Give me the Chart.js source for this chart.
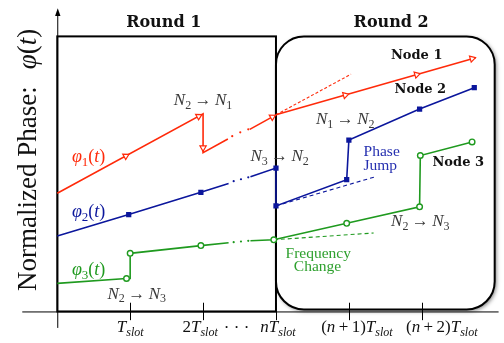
<!DOCTYPE html>
<html>
<head>
<meta charset="utf-8">
<script src="https://cdn.jsdelivr.net/npm/chart.js@4.4.1/dist/chart.umd.min.js"></script>
<style>
  html, body { margin: 0; padding: 0; background: #fff; }
  canvas { display: block; }
</style>
</head>
<body>
<canvas id="phase" width="504" height="343"></canvas>
<script>
// Time in units of T_slot (n = 3), phase in normalized units.
const slotTicks = [1, 2, 3, 4, 5];
const slotLabels = ['T_{slot}', '2T_{slot}', 'nT_{slot}', '(n + 1)T_{slot}', '(n + 2)T_{slot}'];

// Node 1 (red)
const node1PathA = [[0, 1.22], [2, 2.04], [2, 1.64], [2.34, 1.78]];
const node1PathB = [[2.64, 1.88], [3, 2.03]];
const node1PathC = [[3, 2.03], [5.74, 2.62]];
const node1Free  = [[3, 2.03], [4.03, 2.45]];
const node1Arrows = [[0.94, 1.605], [1.94, 2.015], [2, 1.69], [2.95, 2.008], [3.95, 2.234], [4.93, 2.446], [5.69, 2.611]];
const node1Dots = [[2.40, 1.81], [2.51, 1.85], [2.62, 1.88]];

// Node 2 (blue)
const node2PathA = [[0, 0.78], [0.98, 1.00], [1.97, 1.23], [2.35, 1.32]];
const node2PathB = [[2.65, 1.39], [3, 1.48], [3, 1.09], [3.97, 1.36], [4, 1.77], [4.97, 2.09], [5.72, 2.31]];
const node2Free  = [[3, 1.09], [4.36, 1.39]];
const node2Marks = [[0.98, 1.00], [1.97, 1.23], [3, 1.48], [3, 1.09], [3.97, 1.36], [4, 1.77], [4.97, 2.09], [5.72, 2.31]];
const node2Dots = [[2.42, 1.345], [2.52, 1.365], [2.62, 1.385]];

// Node 3 (green)
const node3PathA = [[0, 0.29], [0.95, 0.34], [1, 0.34], [1, 0.60], [1.97, 0.68], [2.35, 0.71]];
const node3PathB = [[2.65, 0.73], [2.97, 0.74], [3.97, 0.91], [4.97, 1.08], [4.98, 1.61], [5.69, 1.75]];
const node3Free  = [[2.97, 0.74], [4.34, 0.81]];
const node3Marks = [[0.95, 0.34], [1, 0.60], [1.97, 0.68], [2.97, 0.74], [3.97, 0.91], [4.97, 1.08], [4.98, 1.61], [5.69, 1.75]];
const node3Dots = [[2.42, 0.715], [2.52, 0.722], [2.62, 0.729]];

const RED = '#ff2a0a', BLUE = '#0b169c', GREEN = '#1f9a1f', INK = '#111', GREY = '#3a3a3a';
const SERIF = '"Liberation Serif", "Times New Roman", serif';
const BOLD = '"DejaVu Serif", serif';

// View window of the two scales
const X_MIN = -53 / 74.5, X_MAX = X_MIN + 504 / 74.5;
const Y_MIN = -0.27, Y_MAX = 3.16;

const P = arr => arr.map(([x, y]) => ({ x, y }));
const node1Paths = [node1PathA, node1PathB, node1PathC];

// Point each arrowhead along the path segment it sits on
function arrowRotation(ctx) {
  if (ctx.type !== 'data') return 0;
  const p = node1Arrows[ctx.dataIndex];
  const xs = ctx.chart.scales.x, ys = ctx.chart.scales.y;
  const px = xs.getPixelForValue(p[0]), py = ys.getPixelForValue(p[1]);
  let best = Infinity, ang = 0;
  for (const path of node1Paths) {
    for (let i = 0; i < path.length - 1; i++) {
      const ax = xs.getPixelForValue(path[i][0]), ay = ys.getPixelForValue(path[i][1]);
      const bx = xs.getPixelForValue(path[i + 1][0]), by = ys.getPixelForValue(path[i + 1][1]);
      const dx = bx - ax, dy = by - ay, L = dx * dx + dy * dy;
      let t = L ? ((px - ax) * dx + (py - ay) * dy) / L : 0;
      t = Math.max(0, Math.min(1, t));
      const d = Math.hypot(ax + t * dx - px, ay + t * dy - py);
      if (d < best) { best = d; ang = Math.atan2(dy, dx); }
    }
  }
  return ang * 180 / Math.PI + 90;
}

const line = (arr, color, extra) => Object.assign({
  data: P(arr), showLine: true, borderColor: color, borderWidth: 1.6,
  pointRadius: 0, fill: false, tension: 0, order: 1
}, extra || {});
const dashed = (arr, color, dash) => line(arr, color, { borderWidth: 1.1, borderDash: dash, order: 2 });
const dots = (arr, color) => ({
  data: P(arr), showLine: false, pointStyle: 'circle', pointRadius: 1.1,
  pointBorderWidth: 0, pointBackgroundColor: color, order: 0
});

// ---- math-style text helpers ----
function mathRuns(ctx, src, size, subScale) {
  const runs = [];
  const sub = Math.round(size * (subScale || 0.7));
  const add = (s, sz, dy) => {
    for (const ch of s) {
      if (ch === ' ') { runs.push({ gap: sz * 0.2 }); continue; }
      const ital = /[A-Za-z\u03b1-\u03c9]/.test(ch);
      const font = (ital ? 'italic ' : '') + sz + 'px ' + SERIF;
      ctx.font = font;
      runs.push({ ch, font, dy, w: ctx.measureText(ch).width });
    }
  };
  const re = /_\{([^}]*)\}/g;
  let last = 0, m;
  while ((m = re.exec(src))) {
    add(src.slice(last, m.index), size, 0);
    add(m[1], sub, size * 0.22);
    last = re.lastIndex;
  }
  add(src.slice(last), size, 0);
  return runs;
}
function drawRuns(ctx, runs, x, y, color) {
  const total = runs.reduce((s, r) => s + (r.gap || r.w), 0);
  let cx = x - total / 2;
  ctx.fillStyle = color;
  ctx.textAlign = 'left';
  ctx.textBaseline = 'alphabetic';
  for (const r of runs) {
    if (r.gap) { cx += r.gap; continue; }
    ctx.font = r.font;
    ctx.fillText(r.ch, cx, y + r.dy);
    cx += r.w;
  }
}

// Annotations placed in data coordinates
const mathNotes = [
  { t: 'φ_{1}(t)', x: 0.43, y: 1.60, c: RED, s: 18 },
  { t: 'φ_{2}(t)', x: 0.43, y: 1.04, c: BLUE, s: 18 },
  { t: 'φ_{3}(t)', x: 0.43, y: 0.44, c: GREEN, s: 18 },
  { t: 'N_{2} → N_{1}', x: 2.0, y: 2.19, c: GREY, s: 17 },
  { t: 'N_{3} → N_{2}', x: 3.05, y: 1.61, c: GREY, s: 17 },
  { t: 'N_{1} → N_{2}', x: 3.95, y: 1.99, c: GREY, s: 17 },
  { t: 'N_{2} → N_{3}', x: 1.09, y: 0.19, c: GREY, s: 17 },
  { t: 'N_{2} → N_{3}', x: 4.98, y: 0.94, c: GREY, s: 17 }
];
const textNotes = [
  { t: 'Round 1', x: 1.46, y: 2.98, c: INK, f: 'bold 16px ' + BOLD },
  { t: 'Round 2', x: 4.58, y: 2.98, c: INK, f: 'bold 16px ' + BOLD },
  { t: 'Node 1', x: 4.93, y: 2.64, c: INK, f: 'bold 13px ' + BOLD },
  { t: 'Node 2', x: 4.98, y: 2.29, c: INK, f: 'bold 13px ' + BOLD },
  { t: 'Node 3', x: 5.50, y: 1.54, c: INK, f: 'bold 13px ' + BOLD },
  { t: 'Phase', x: 4.45, y: 1.645, c: '#2630b0', f: '15.5px ' + SERIF },
  { t: 'Jump', x: 4.43, y: 1.505, c: '#2630b0', f: '15.5px ' + SERIF },
  { t: 'Frequency', x: 3.58, y: 0.595, c: '#2ea02e', f: '15.5px ' + SERIF },
  { t: 'Change', x: 3.57, y: 0.455, c: '#2ea02e', f: '15.5px ' + SERIF }
];
const tickLabelShift = [0, -3, 2, 8, 20];

const diagram = {
  id: 'diagram',
  beforeDatasetsDraw(chart) {
    const ctx = chart.ctx, xs = chart.scales.x, ys = chart.scales.y;
    const X = v => xs.getPixelForValue(v), Y = v => ys.getPixelForValue(v);
    ctx.save();

    // Round 2: rounded box with a soft drop shadow
    const l = X(3), r = X(6.0), t = Y(2.84), b = Y(0.02), rad = 28;
    ctx.beginPath();
    ctx.moveTo(l + rad, t);
    ctx.lineTo(r - rad, t); ctx.arcTo(r, t, r, t + rad, rad);
    ctx.lineTo(r, b - rad); ctx.arcTo(r, b, r - rad, b, rad);
    ctx.lineTo(l + rad, b); ctx.arcTo(l, b, l, b - rad, rad);
    ctx.lineTo(l, t + rad); ctx.arcTo(l, t, l + rad, t, rad);
    ctx.closePath();
    ctx.shadowColor = 'rgba(0,0,0,0.55)';
    ctx.shadowBlur = 4; ctx.shadowOffsetX = 1.5; ctx.shadowOffsetY = 1.5;
    ctx.fillStyle = '#fff'; ctx.fill();
    ctx.shadowColor = 'transparent';
    ctx.lineWidth = 2; ctx.strokeStyle = '#000'; ctx.stroke();

    // Round 1: square box
    ctx.strokeRect(X(0), Y(2.84), X(3) - X(0), Y(0) - Y(2.84));

    // Axes
    ctx.lineWidth = 1;
    ctx.beginPath();
    ctx.moveTo(X(-0.48), Y(0) + 0.5); ctx.lineTo(X(X_MAX), Y(0) + 0.5);
    ctx.moveTo(X(0) + 0.5, Y(-0.17)); ctx.lineTo(X(0) + 0.5, Y(3.09));
    ctx.stroke();
    ctx.fillStyle = '#000';
    ctx.beginPath();
    ctx.moveTo(X(0) + 0.5, Y(3.13));
    ctx.lineTo(X(0) - 2.2, Y(3.05)); ctx.lineTo(X(0) + 3.2, Y(3.05));
    ctx.closePath(); ctx.fill();

    // Ticks and tick labels
    ctx.beginPath();
    slotTicks.forEach(s => {
      ctx.moveTo(Math.round(X(s)) + 0.5, Y(0.09));
      ctx.lineTo(Math.round(X(s)) + 0.5, Y(-0.09));
    });
    ctx.stroke();
    slotLabels.forEach((lab, i) => {
      drawRuns(ctx, mathRuns(ctx, lab, 17, 0.72), X(slotTicks[i]) + tickLabelShift[i], Y(-0.215), '#111');
    });
    ctx.font = '17px ' + SERIF;
    ctx.fillStyle = '#111';
    ctx.textAlign = 'center';
    ctx.textBaseline = 'alphabetic';
    ctx.fillText('· · ·', X(2.46), Y(-0.215) + 1);

    // Y axis title
    ctx.save();
    ctx.translate(36, (Y(0) + Y(2.84)) / 2 - 14);
    ctx.rotate(-Math.PI / 2);
    const head = 'Normalized Phase:';
    ctx.font = '27px ' + SERIF;
    const hw = ctx.measureText(head).width;
    const tail = mathRuns(ctx, 'φ(t)', 27);
    const tw = tail.reduce((s, q) => s + q.w, 0);
    const gap = 17;
    const start = -(hw + gap + tw) / 2;
    ctx.fillStyle = '#111'; ctx.textAlign = 'left'; ctx.textBaseline = 'alphabetic';
    ctx.font = '27px ' + SERIF;
    ctx.fillText(head, start, 0);
    drawRuns(ctx, tail, start + hw + gap + tw / 2, 0, '#111');
    ctx.restore();

    ctx.restore();
  },
  afterDatasetsDraw(chart) {
    const ctx = chart.ctx, xs = chart.scales.x, ys = chart.scales.y;
    const X = v => xs.getPixelForValue(v), Y = v => ys.getPixelForValue(v);
    ctx.save();
    textNotes.forEach(n => {
      ctx.font = n.f; ctx.fillStyle = n.c;
      ctx.textAlign = 'center'; ctx.textBaseline = 'middle';
      ctx.fillText(n.t, X(n.x), Y(n.y));
    });
    mathNotes.forEach(n => {
      drawRuns(ctx, mathRuns(ctx, n.t, n.s), X(n.x), Y(n.y) + n.s * 0.33, n.c);
    });
    ctx.restore();
  }
};

new Chart(document.getElementById('phase'), {
  type: 'scatter',
  data: {
    datasets: [
      // markers
      {
        data: P(node1Arrows), showLine: false, pointStyle: 'triangle', pointRadius: 3.6,
        pointBorderWidth: 1.2, pointBorderColor: RED, pointBackgroundColor: '#fff',
        pointRotation: arrowRotation, order: 0
      },
      {
        data: P(node2Marks), showLine: false, pointStyle: 'rect', pointRadius: 3.7,
        pointBorderWidth: 0, pointBackgroundColor: BLUE, order: 0
      },
      {
        data: P(node3Marks), showLine: false, pointStyle: 'circle', pointRadius: 2.8,
        pointBorderWidth: 1.4, pointBorderColor: GREEN, pointBackgroundColor: '#fff', order: 0
      },
      dots(node1Dots, RED), dots(node2Dots, BLUE), dots(node3Dots, GREEN),
      // phase trajectories
      line(node1PathA, RED), line(node1PathB, RED), line(node1PathC, RED),
      line(node2PathA, BLUE), line(node2PathB, BLUE),
      line(node3PathA, GREEN), line(node3PathB, GREEN),
      // free-running continuation
      dashed(node1Free, RED, [3, 2]), dashed(node2Free, BLUE, [4, 3]), dashed(node3Free, GREEN, [4, 3])
    ]
  },
  options: {
    responsive: false,
    animation: false,
    devicePixelRatio: 1,
    events: [],
    layout: { padding: 0 },
    scales: {
      x: { type: 'linear', min: X_MIN, max: X_MAX, display: false },
      y: { type: 'linear', min: Y_MIN, max: Y_MAX, display: false }
    },
    plugins: { legend: { display: false }, tooltip: { enabled: false } }
  },
  plugins: [diagram]
});
</script>
</body>
</html>
